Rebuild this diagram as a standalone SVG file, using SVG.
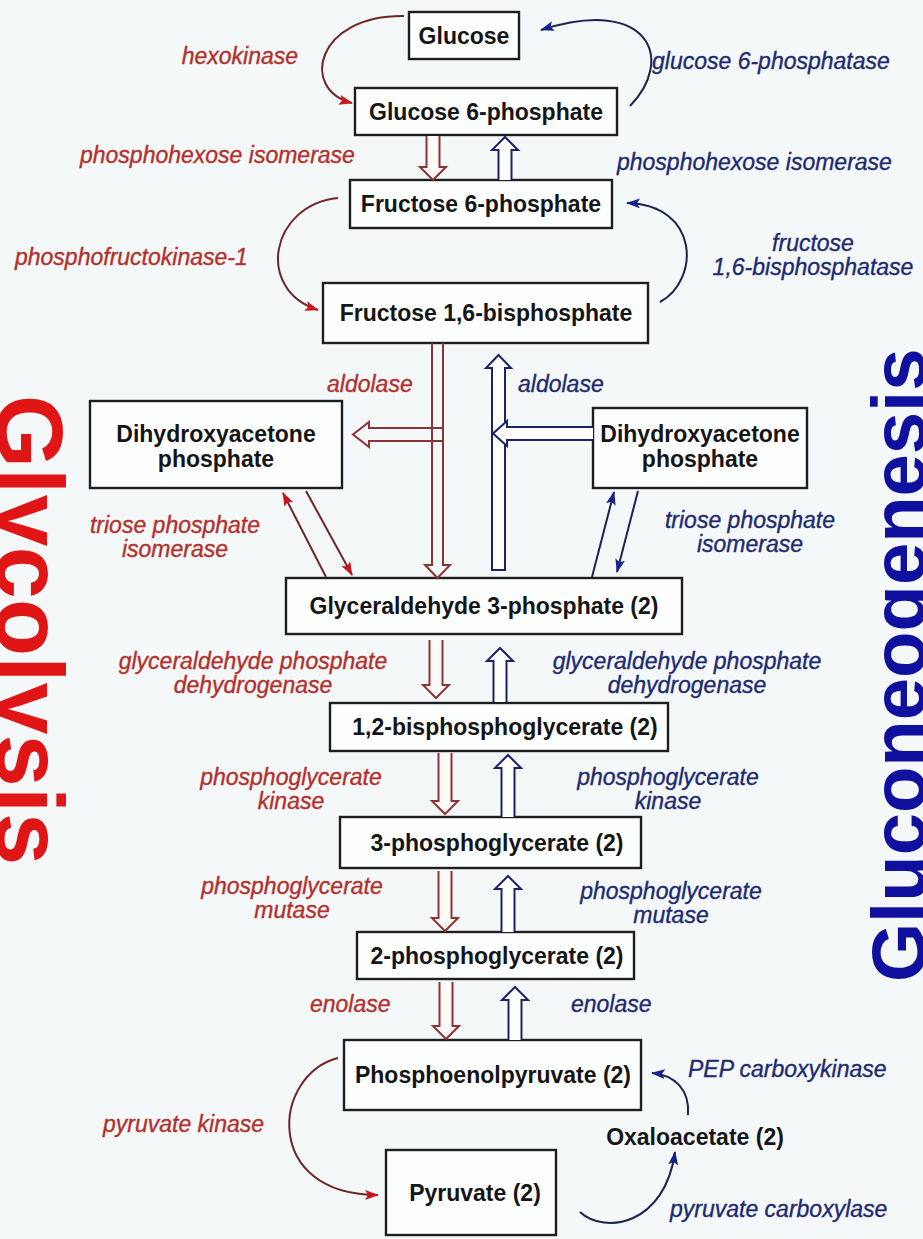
<svg xmlns="http://www.w3.org/2000/svg" width="923" height="1239" viewBox="0 0 923 1239">
  <style>
    .box { fill: #fdfefe; stroke: #1e1e1e; stroke-width: 2.4; }
    .nl { font-family: "Liberation Sans", Arial, sans-serif; font-size: 23px; font-weight: bold; fill: #151515; text-anchor: middle; }
    .en { font-family: "Liberation Sans", Arial, sans-serif; font-size: 23px; font-style: italic; stroke-width: 0.35; }
    .er { fill: #b3302c; stroke: #b3302c; }
    .eb { fill: #1d2a72; stroke: #1d2a72; }
    .mid { text-anchor: middle; }
    .end { text-anchor: end; }
    .bar { fill: #fff9f7; stroke: #8c3434; stroke-width: 2; stroke-linejoin: miter; }
    .bab { fill: #ffffff; stroke: #1c2266; stroke-width: 2; stroke-linejoin: miter; }
    .open { fill: none; }
    .cr { fill: none; stroke: #6e2626; stroke-width: 2; }
    .cb { fill: none; stroke: #1c2250; stroke-width: 2; }
    .big { font-family: "Liberation Sans", Arial, sans-serif; font-weight: bold; }
  </style>
  <defs>
    <marker id="ah-r" viewBox="0 0 14 10" refX="13" refY="5" markerWidth="14" markerHeight="10" markerUnits="userSpaceOnUse" orient="auto">
      <path d="M0 0 L14 5 L0 10 L3 5 Z" fill="#c8161d"/>
    </marker>
    <marker id="ah-b" viewBox="0 0 14 10" refX="13" refY="5" markerWidth="14" markerHeight="10" markerUnits="userSpaceOnUse" orient="auto">
      <path d="M0 0 L14 5 L0 10 L3 5 Z" fill="#16238c"/>
    </marker>
  </defs>

  <rect width="923" height="1239" fill="#f4f8f9"/>

  <!-- pathway titles, running off the page edges -->
  <text class="big" font-size="94" fill="#e01616" transform="translate(-3,395) rotate(90)">Glycolysis</text>
  <text class="big" font-size="76" fill="#10109e" transform="translate(925,982) rotate(-90)">Gluconeogenesis</text>

  <!-- metabolites -->
  <g id="glucose">
    <rect class="box" x="409" y="12" width="110" height="47"/>
    <text class="nl" x="464" y="44">Glucose</text>
  </g>
  <g id="glucose-6-phosphate">
    <rect class="box" x="355" y="88" width="262" height="47"/>
    <text class="nl" x="486" y="120">Glucose 6-phosphate</text>
  </g>
  <g id="fructose-6-phosphate">
    <rect class="box" x="350" y="180" width="262" height="48"/>
    <text class="nl" x="481" y="212">Fructose 6-phosphate</text>
  </g>
  <g id="fructose-1-6-bisphosphate">
    <rect class="box" x="323" y="283" width="325" height="60"/>
    <text class="nl" x="486" y="321">Fructose 1,6-bisphosphate</text>
  </g>
  <g id="dhap-left">
    <rect class="box" x="90" y="401" width="252" height="87"/>
    <text class="nl" x="216" y="442">Dihydroxyacetone</text>
    <text class="nl" x="216" y="467">phosphate</text>
  </g>
  <g id="dhap-right">
    <rect class="box" x="593" y="408" width="214" height="80"/>
    <text class="nl" x="700" y="442">Dihydroxyacetone</text>
    <text class="nl" x="700" y="467">phosphate</text>
  </g>
  <g id="glyceraldehyde-3-phosphate">
    <rect class="box" x="286" y="578" width="396" height="56"/>
    <text class="nl" x="484" y="614">Glyceraldehyde 3-phosphate (2)</text>
  </g>
  <g id="bisphosphoglycerate">
    <rect class="box" x="330" y="703" width="338" height="48"/>
    <text class="nl" x="505" y="735">1,2-bisphosphoglycerate (2)</text>
  </g>
  <g id="phosphoglycerate-3">
    <rect class="box" x="340" y="817" width="301" height="51"/>
    <text class="nl" x="497" y="851">3-phosphoglycerate (2)</text>
  </g>
  <g id="phosphoglycerate-2">
    <rect class="box" x="357" y="932" width="277" height="47"/>
    <text class="nl" x="497" y="964">2-phosphoglycerate (2)</text>
  </g>
  <g id="phosphoenolpyruvate">
    <rect class="box" x="344" y="1040" width="297" height="70"/>
    <text class="nl" x="493" y="1083">Phosphoenolpyruvate (2)</text>
  </g>
  <g id="pyruvate">
    <rect class="box" x="386" y="1150" width="170" height="85"/>
    <text class="nl" x="475" y="1201">Pyruvate (2)</text>
  </g>
  <g id="oxaloacetate">
    <text class="nl" x="695" y="1145">Oxaloacetate (2)</text>
  </g>

  <!-- connectors -->
  <g id="connectors">
    <!-- block arrows: glycolysis (down) and gluconeogenesis (up) -->
    <path class="bar" d="M426.5 136 V167 H420 L433 180 L446 167 H439.5 V136"/>
    <path class="bab" d="M498.5 180 V150 H492 L505 137 L518 150 H511.5 V180"/>

    <path class="bar open" d="M432 343 V565 H425 L437.5 578 L450 565 H443 V343"/>
    <path class="bar open" d="M443 428 H369 V422 L353 434.5 L369 447 V441 H443"/>
    <path class="bab" d="M492 570 V368 H486 L498.5 355 L511 368 H505 V570 Z"/>
    <path class="bab" d="M593 427 H507 V421 L493 433.5 L507 446 V440 H593"/>

    <path class="bar" d="M429.5 640 V685 H423 L436 698 L449 685 H442.5 V640"/>
    <path class="bab" d="M493.5 702 V661 H487 L500 648 L513 661 H506.5 V702"/>

    <path class="bar" d="M438.5 753 V801 H432 L445 814 L458 801 H451.5 V753"/>
    <path class="bab" d="M501.5 817 V768 H495 L508 755 L521 768 H514.5 V817"/>

    <path class="bar" d="M438.5 871 V918 H432 L445 931 L458 918 H451.5 V871"/>
    <path class="bab" d="M501.5 932 V889 H495 L508 876 L521 889 H514.5 V932"/>

    <path class="bar" d="M439.5 982 V1026 H433 L446 1039 L459 1026 H452.5 V982"/>
    <path class="bab" d="M508.5 1040 V1000 H502 L515 987 L528 1000 H521.5 V1040"/>

    <!-- curved reaction arrows -->
    <path class="cr" d="M404 16 C315 15, 300 90, 352 103" marker-end="url(#ah-r)"/>
    <path class="cb" d="M630 106 C675 60, 650 -5, 541 30" marker-end="url(#ah-b)"/>
    <path class="cr" d="M338 198 C270 205, 255 290, 318 310" marker-end="url(#ah-r)"/>
    <path class="cb" d="M660 302 C700 280, 700 205, 627 203" marker-end="url(#ah-b)"/>
    <path class="cr" d="M338 1058 C272 1075, 262 1195, 378 1195" marker-end="url(#ah-r)"/>
    <path class="cb" d="M688 1115 C690 1090, 675 1075, 652 1073" marker-end="url(#ah-b)"/>
    <path class="cb" d="M580 1212 C605 1235, 665 1225, 675 1152" marker-end="url(#ah-b)"/>

    <!-- triose phosphate isomerase -->
    <path class="cr" d="M326 577 L283 493" marker-end="url(#ah-r)"/>
    <path class="cr" d="M306 491 L352 575" marker-end="url(#ah-r)"/>
    <path class="cb" d="M592 577 L614 492" marker-end="url(#ah-b)"/>
    <path class="cb" d="M638 491 L617 572" marker-end="url(#ah-b)"/>
  </g>

  <!-- enzymes, glycolysis side -->
  <g id="enzymes-glycolysis" class="en er">
    <text class="end" x="298" y="64">hexokinase</text>
    <text x="80" y="163">phosphohexose isomerase</text>
    <text x="15" y="265">phosphofructokinase-1</text>
    <text x="327" y="392">aldolase</text>
    <text class="mid" x="175" y="533">triose phosphate</text>
    <text class="mid" x="175" y="557">isomerase</text>
    <text class="mid" x="253" y="669">glyceraldehyde phosphate</text>
    <text class="mid" x="253" y="693">dehydrogenase</text>
    <text class="mid" x="291" y="785">phosphoglycerate</text>
    <text class="mid" x="291" y="809">kinase</text>
    <text class="mid" x="292" y="894">phosphoglycerate</text>
    <text class="mid" x="292" y="918">mutase</text>
    <text x="310" y="1012">enolase</text>
    <text x="103" y="1132">pyruvate kinase</text>
  </g>

  <!-- enzymes, gluconeogenesis side -->
  <g id="enzymes-gluconeogenesis" class="en eb">
    <text x="652" y="69">glucose 6-phosphatase</text>
    <text x="617" y="170">phosphohexose isomerase</text>
    <text class="mid" x="813" y="251">fructose</text>
    <text class="mid" x="813" y="275">1,6-bisphosphatase</text>
    <text x="518" y="392">aldolase</text>
    <text class="mid" x="750" y="528">triose phosphate</text>
    <text class="mid" x="750" y="552">isomerase</text>
    <text class="mid" x="687" y="669">glyceraldehyde phosphate</text>
    <text class="mid" x="687" y="693">dehydrogenase</text>
    <text class="mid" x="668" y="785">phosphoglycerate</text>
    <text class="mid" x="668" y="809">kinase</text>
    <text class="mid" x="671" y="899">phosphoglycerate</text>
    <text class="mid" x="671" y="923">mutase</text>
    <text x="571" y="1012">enolase</text>
    <text x="688" y="1077">PEP carboxykinase</text>
    <text x="670" y="1217">pyruvate carboxylase</text>
  </g>
</svg>
